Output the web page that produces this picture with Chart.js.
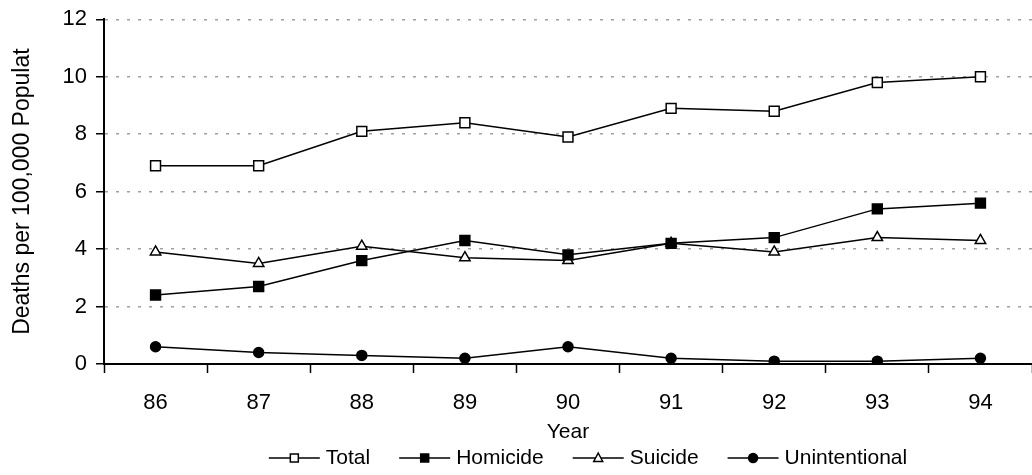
<!DOCTYPE html>
<html>
<head>
<meta charset="utf-8">
<script src="https://cdn.jsdelivr.net/npm/chart.js@4"></script>
<style>
  html, body { margin: 0; padding: 0; background: #fff; overflow: hidden; }
  #wrap { width: 1032px; height: 475px; position: relative; }
</style>
</head>
<body>
<div id="wrap"><canvas id="c"></canvas></div>
<script>
const years = ['86', '87', '88', '89', '90', '91', '92', '93', '94'];
const total = [6.9, 6.9, 8.1, 8.4, 7.9, 8.9, 8.8, 9.8, 10.0];
const homicide = [2.4, 2.7, 3.6, 4.3, 3.8, 4.2, 4.4, 5.4, 5.6];
const suicide = [3.9, 3.5, 4.1, 3.7, 3.6, 4.2, 3.9, 4.4, 4.3];
const unintentional = [0.6, 0.4, 0.3, 0.2, 0.6, 0.2, 0.1, 0.1, 0.2];
const seriesNames = ['Total', 'Homicide', 'Suicide', 'Unintentional'];
const yTitle = 'Deaths per 100,000 Populat';
const xTitle = 'Year';

const FONT = "'Liberation Sans', Arial, sans-serif";

function ds(label, data, style, fill, radius) {
  return {
    label, data,
    borderColor: '#000', borderWidth: 1.5, tension: 0,
    pointStyle: style, pointRadius: radius, pointHoverRadius: radius,
    pointBackgroundColor: fill, pointBorderColor: '#000', pointBorderWidth: 1.5,
    fill: false
  };
}

const legendPlugin = {
  id: 'customLegend',
  afterDraw(chart) {
    const ctx = chart.ctx;
    ctx.save();
    ctx.font = '21px ' + FONT;
    ctx.textBaseline = 'middle';
    ctx.fillStyle = '#000';
    const lineW = 51, gapT = 6, gapItem = 29;
    const items = chart.data.datasets.map(d => ({ d, tw: ctx.measureText(d.label).width }));
    const totalW = items.reduce((s, it) => s + lineW + gapT + it.tw, 0) + gapItem * (items.length - 1);
    let x = 588 - totalW / 2;
    const y = 458;
    items.forEach(it => {
      const d = it.d;
      ctx.strokeStyle = '#000';
      ctx.lineWidth = 1.5;
      ctx.beginPath(); ctx.moveTo(x, y); ctx.lineTo(x + lineW, y); ctx.stroke();
      const cx = x + lineW / 2;
      ctx.fillStyle = d.pointBackgroundColor;
      ctx.beginPath();
      if (d.pointStyle === 'rect') {
        ctx.rect(cx - 4, y - 4, 8, 8);
      } else if (d.pointStyle === 'circle') {
        ctx.arc(cx, y, 4.5, 0, Math.PI * 2);
      } else if (d.pointStyle === 'triangle') {
        ctx.moveTo(cx, y - 5); ctx.lineTo(cx + 4.5, y + 3.5); ctx.lineTo(cx - 4.5, y + 3.5); ctx.closePath();
      }
      ctx.fill(); ctx.stroke();
      ctx.fillStyle = '#000';
      ctx.fillText(d.label, x + lineW + gapT, y);
      x += lineW + gapT + it.tw + gapItem;
    });
    ctx.restore();
  }
};

new Chart(document.getElementById('c'), {
  type: 'line',
  data: {
    labels: years,
    datasets: [
      ds(seriesNames[0], total, 'rect', '#fff', 7),
      ds(seriesNames[1], homicide, 'rect', '#000', 7),
      ds(seriesNames[2], suicide, 'triangle', '#fff', 6),
      ds(seriesNames[3], unintentional, 'circle', '#000', 5)
    ]
  },
  options: {
    responsive: true,
    maintainAspectRatio: false,
    animation: false,
    layout: { autoPadding: false, padding: { top: 19.3, right: 0, bottom: 0, left: 0 } },
    plugins: { legend: { display: false }, tooltip: { enabled: false } },
    scales: {
      x: {
        offset: true,
        grid: { offset: true, drawOnChartArea: false, drawTicks: true, tickLength: 9, tickColor: '#000', tickWidth: 1.5 },
        border: { display: true, color: '#000', width: 2 },
        ticks: { color: '#000', font: { family: FONT, size: 22 }, padding: 17, maxRotation: 0 },
        title: { display: true, text: xTitle, color: '#000', font: { family: FONT, size: 21 }, padding: { top: 0, bottom: 30 } },
        afterFit(scale) { scale.height = 111; scale.paddingRight = 0; scale.paddingLeft = 0; }
      },
      y: {
        min: 0, max: 12,
        ticks: { stepSize: 2, color: '#000', font: { family: FONT, size: 22 }, padding: 9 },
        grid: { color: '#a0a0a0', lineWidth: 1.5, tickColor: '#000', tickLength: 8, tickWidth: 1.5, tickBorderDash: [] },
        border: { display: true, color: '#000', width: 2, dash: [3, 8] },
        title: { display: true, text: yTitle, color: '#000', font: { family: FONT, size: 23 }, padding: { top: 9, bottom: 0 } },
        afterFit(scale) { scale.width = 104; scale.paddingTop = 0; scale.paddingBottom = 0; }
      }
    }
  },
  plugins: [legendPlugin]
});
</script>
</body>
</html>
